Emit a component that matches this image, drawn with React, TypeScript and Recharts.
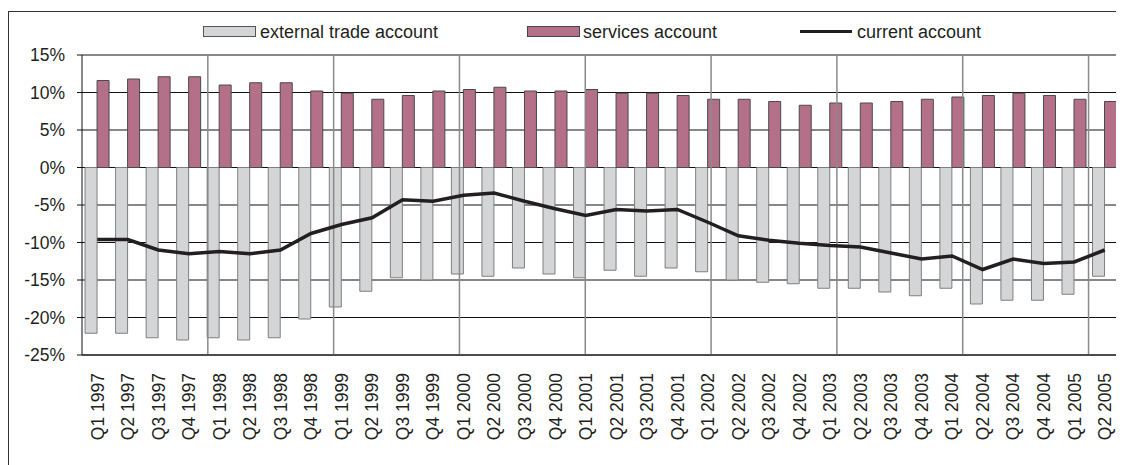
import { ComposedChart, Bar, Line, XAxis, YAxis, CartesianGrid, ReferenceLine } from 'recharts'

const quarters = [
  'Q1 1997', 'Q2 1997', 'Q3 1997', 'Q4 1997',
  'Q1 1998', 'Q2 1998', 'Q3 1998', 'Q4 1998',
  'Q1 1999', 'Q2 1999', 'Q3 1999', 'Q4 1999',
  'Q1 2000', 'Q2 2000', 'Q3 2000', 'Q4 2000',
  'Q1 2001', 'Q2 2001', 'Q3 2001', 'Q4 2001',
  'Q1 2002', 'Q2 2002', 'Q3 2002', 'Q4 2002',
  'Q1 2003', 'Q2 2003', 'Q3 2003', 'Q4 2003',
  'Q1 2004', 'Q2 2004', 'Q3 2004', 'Q4 2004',
  'Q1 2005', 'Q2 2005',
]

const tradeAccount = [
  -22.1, -22.1, -22.7, -23.0, -22.7, -23.0, -22.7, -20.2,
  -18.6, -16.5, -14.7, -15.0, -14.2, -14.5, -13.4, -14.2,
  -14.7, -13.7, -14.5, -13.4, -13.9, -15.0, -15.3, -15.5,
  -16.1, -16.1, -16.6, -17.1, -16.1, -18.2, -17.7, -17.7,
  -16.9, -14.5,
]

const servicesAccount = [
  11.6, 11.8, 12.1, 12.1, 11.0, 11.3, 11.3, 10.2,
  9.9, 9.1, 9.6, 10.2, 10.4, 10.7, 10.2, 10.2,
  10.4, 9.9, 9.9, 9.6, 9.1, 9.1, 8.8, 8.3,
  8.6, 8.6, 8.8, 9.1, 9.4, 9.6, 9.9, 9.6,
  9.1, 8.8,
]

const currentAccount = [
  -9.6, -9.6, -11.0, -11.5, -11.2, -11.5, -11.0, -8.8,
  -7.6, -6.7, -4.3, -4.5, -3.7, -3.4, -4.5, -5.5,
  -6.4, -5.6, -5.8, -5.6, -7.3, -9.1, -9.7, -10.1,
  -10.4, -10.6, -11.4, -12.2, -11.8, -13.6, -12.2, -12.8,
  -12.6, -11.0,
]

const yTicks = [-25, -20, -15, -10, -5, 0, 5, 10, 15]

const data = quarters.map((q, i) => ({
  name: q,
  trade: tradeAccount[i],
  services: servicesAccount[i],
  current: currentAccount[i],
}))

// year boundaries, plus the right edge of the plot
const yearLines = quarters
  .map((q, i) => (i > 0 && q.startsWith('Q1') ? i : -1))
  .filter((i) => i > 0)
  .concat([quarters.length])

const font = '"Liberation Sans", Arial, sans-serif'
const ink = '#231f20'

function QuarterTick({ x, y, payload }: any) {
  return (
    <text
      x={x}
      y={y}
      dy="0.36em"
      transform={`rotate(-90, ${x}, ${y})`}
      textAnchor="end"
      fill={ink}
      fontSize={17.5}
      fontFamily={font}
    >
      {payload.value}
    </text>
  )
}

const legendText = { position: 'absolute' as const, top: 14, lineHeight: '20px', fontSize: 18, fontFamily: font, color: ink, whiteSpace: 'nowrap' as const }

export default function App() {
  return (
    <div style={{ position: 'relative', width: 1116, height: 457, overflow: 'hidden' }}>
      <div style={{ position: 'absolute', left: 0, top: 3, width: 1140, height: 500, border: '1px solid #333' }} />

      <div style={{ position: 'absolute', left: 195, top: 18, width: 51, height: 9, background: '#d4d5d7', border: '1px solid #555' }} />
      <div style={{ ...legendText, left: 252 }}>external trade account</div>
      <div style={{ position: 'absolute', left: 519, top: 18, width: 51, height: 9, background: '#b57089', border: '1px solid #444' }} />
      <div style={{ ...legendText, left: 575 }}>services account</div>
      <div style={{ position: 'absolute', left: 792, top: 22, width: 52, height: 3, background: ink }} />
      <div style={{ ...legendText, left: 849 }}>current account</div>

      <div style={{ position: 'absolute', left: 0, top: 0 }}>
        <ComposedChart
          width={1116}
          height={457}
          data={data}
          margin={{ top: 47, right: 4, bottom: 0, left: 0 }}
          barCategoryGap="10%"
          barGap={0}
        >
          <CartesianGrid vertical={false} stroke="#111" strokeWidth={1} />
          <XAxis
            dataKey="name"
            interval={0}
            height={110}
            tickLine={false}
            tickSize={0}
            tickMargin={18}
            axisLine={{ stroke: '#111' }}
            tick={<QuarterTick />}
          />
          <XAxis xAxisId="yr" type="number" domain={[0, quarters.length]} hide />
          <YAxis
            width={74}
            domain={[-25, 15]}
            ticks={yTicks}
            interval={0}
            tickFormatter={(v) => `${v}%`}
            tickSize={5}
            tickMargin={12}
            tickLine={{ stroke: '#111' }}
            axisLine={{ stroke: '#111' }}
            tick={{ fill: ink, fontSize: 17.5, fontFamily: font }}
          />
          {yearLines.map((i) => (
            <ReferenceLine key={i} xAxisId="yr" x={i} stroke="#8a8a8a" strokeWidth={1.5} />
          ))}
          <Bar dataKey="trade" fill="#d4d5d7" stroke="#7f7f7f" strokeWidth={1} isAnimationActive={false} />
          <Bar dataKey="services" fill="#b57089" stroke="#4a4a4a" strokeWidth={1} isAnimationActive={false} />
          <Line
            dataKey="current"
            type="linear"
            stroke={ink}
            strokeWidth={3.5}
            dot={false}
            activeDot={false}
            isAnimationActive={false}
          />
        </ComposedChart>
      </div>
    </div>
  )
}
